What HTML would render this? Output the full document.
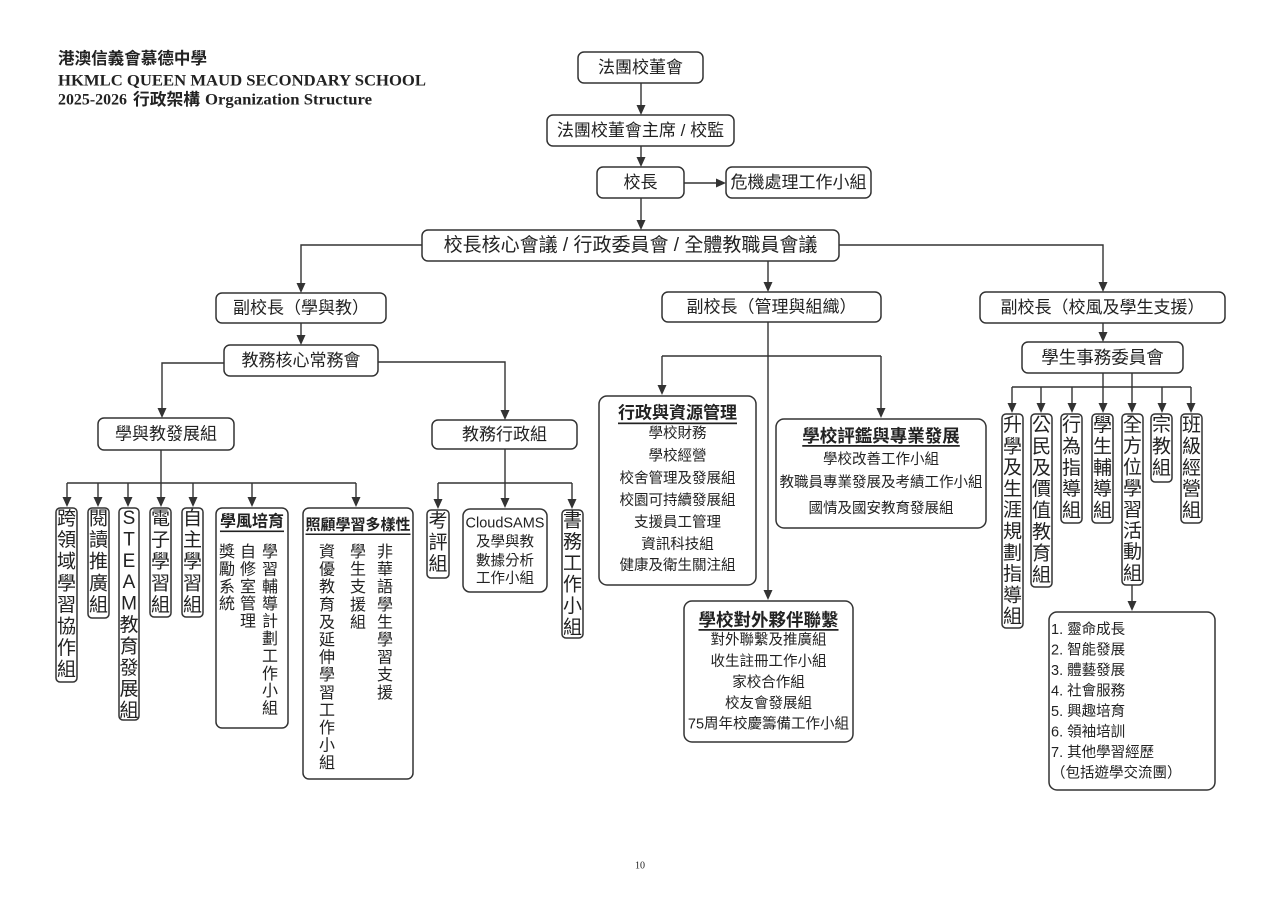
<!DOCTYPE html>
<html><head><meta charset="utf-8">
<style>
html,body{margin:0;padding:0;background:#fff;width:1280px;height:904px;overflow:hidden;}
svg{display:block}
text{font-family:"Liberation Sans","Noto Sans CJK TC",sans-serif;fill:#222;dominant-baseline:central;}
.c{text-anchor:middle}
.b{fill:#fff;stroke:#333;stroke-width:1.5}
.l{fill:none;stroke:#333;stroke-width:1.4}
.ah{fill:#333;stroke:none}
.v{font-size:19px;text-anchor:middle}
.m{font-size:17px;text-anchor:middle}
.s{font-size:14.5px;text-anchor:middle}
.sl{font-size:14.5px}
.u{font-weight:bold;text-decoration:underline;text-anchor:middle}
.w{font-size:16px;text-anchor:middle}
.serif{font-family:"Liberation Serif","Noto Serif CJK SC",serif;font-weight:bold}
</style></head>
<body>
<svg width="1280" height="904" viewBox="0 0 1280 904" xmlns="http://www.w3.org/2000/svg">

<!-- Header -->
<text x="58" y="59" font-size="16.5" font-weight="bold" textLength="149" lengthAdjust="spacingAndGlyphs">港澳信義會慕德中學</text>
<text class="serif" x="58" y="81" font-size="16" textLength="368" lengthAdjust="spacingAndGlyphs">HKMLC QUEEN MAUD SECONDARY SCHOOL</text>
<text class="serif" x="58" y="100" font-size="16" textLength="69" lengthAdjust="spacingAndGlyphs">2025-2026</text>
<text x="133" y="100" font-size="16.5" font-weight="bold" textLength="67" lengthAdjust="spacingAndGlyphs">行政架構</text>
<text class="serif" x="205" y="100" font-size="16" textLength="167" lengthAdjust="spacingAndGlyphs">Organization Structure</text>

<!-- Connector lines -->
<path class="l" d="M641 83V106 M641 146V158 M684 183H716 M641 198V221
M422 245H301V284 M839 245H1103V283 M768 261V283
M301 323V336 M224 363H162V409 M378 362H505V411
M161 450V498 M67 483H356 M67 483V498 M98 483V498 M128 483V498 M193 483V498 M252 483V498 M356 483V498
M505 449V499 M438 483H572 M438 483V500 M572 483V500
M768 322V591 M662 356H881 M662 356V386 M881 356V409
M1103 323V333 M1103 373V404 M1132 373V404 M1012 387H1191 M1012 387V404 M1041 387V404 M1072 387V404 M1162 387V404 M1191 387V404
M1132 585V602"/>

<!-- Arrowheads -->
<path class="ah" d="
M641 115l-4.5 -10h9z M641 167l-4.5 -10h9z M641 230l-4.5 -10h9z
M301 293l-4.5 -10h9z M1103 292l-4.5 -10h9z M768 292l-4.5 -10h9z
M301 345l-4.5 -10h9z M162 418l-4.5 -10h9z M505 420l-4.5 -10h9z
M67 507l-4.5 -10h9z M98 507l-4.5 -10h9z M128 507l-4.5 -10h9z M161 507l-4.5 -10h9z M193 507l-4.5 -10h9z M252 507l-4.5 -10h9z M356 507l-4.5 -10h9z
M438 509l-4.5 -10h9z M505 508l-4.5 -10h9z M572 509l-4.5 -10h9z
M768 600l-4.5 -10h9z M662 395l-4.5 -10h9z M881 418l-4.5 -10h9z
M1103 342l-4.5 -10h9z M1012 413l-4.5 -10h9z M1041 413l-4.5 -10h9z M1072 413l-4.5 -10h9z M1103 413l-4.5 -10h9z M1132 413l-4.5 -10h9z M1162 413l-4.5 -10h9z M1191 413l-4.5 -10h9z
M1132 611l-4.5 -10h9z
M726 183l-10 -4.5v9z"/>

<!-- Top chain boxes -->
<rect class="b" x="578" y="52" width="125" height="31" rx="6"/>
<text class="m" x="640.5" y="67.5">法團校董會</text>
<rect class="b" x="547" y="115" width="187" height="31" rx="6"/>
<text class="m" x="640.5" y="130.5">法團校董會主席 / 校監</text>
<rect class="b" x="597" y="167" width="87" height="31" rx="6"/>
<text class="m" x="640.5" y="182.5">校長</text>
<rect class="b" x="726" y="167" width="145" height="31" rx="6"/>
<text class="m" x="798.5" y="182.5">危機處理工作小組</text>
<rect class="b" x="422" y="230" width="417" height="31" rx="6"/>
<text class="c" x="630.5" y="245.5" font-size="19">校長核心會議 / 行政委員會 / 全體教職員會議</text>

<!-- Vice principals -->
<rect class="b" x="216" y="293" width="170" height="30" rx="6"/>
<text class="m" x="301" y="308">副校長（學與教）</text>
<rect class="b" x="662" y="292" width="219" height="30" rx="6"/>
<text class="m" x="771.5" y="307">副校長（管理與組織）</text>
<rect class="b" x="980" y="292" width="245" height="31" rx="6"/>
<text class="m" x="1102.5" y="307.5">副校長（校風及學生支援）</text>

<!-- Left branch -->
<rect class="b" x="224" y="345" width="154" height="31" rx="6"/>
<text class="m" x="301" y="360.5">教務核心常務會</text>
<rect class="b" x="98" y="418" width="136" height="32" rx="6"/>
<text class="m" x="166" y="434">學與教發展組</text>
<rect class="b" x="432" y="420" width="145" height="29" rx="6"/>
<text class="m" x="504.5" y="434.5">教務行政組</text>

<!-- Left vertical boxes -->
<rect class="b" x="56" y="508" width="21" height="174" rx="4"/>
<text class="v" x="66.5" y="518.5"><tspan x="66.5" dy="0">跨</tspan><tspan x="66.5" dy="21.6">領</tspan><tspan x="66.5" dy="21.6">域</tspan><tspan x="66.5" dy="21.6">學</tspan><tspan x="66.5" dy="21.6">習</tspan><tspan x="66.5" dy="21.6">協</tspan><tspan x="66.5" dy="21.6">作</tspan><tspan x="66.5" dy="21.6">組</tspan></text>

<rect class="b" x="88" y="508" width="21" height="110" rx="4"/>
<text class="v" x="98.5" y="518.5"><tspan x="98.5" dy="0">閱</tspan><tspan x="98.5" dy="21.6">讀</tspan><tspan x="98.5" dy="21.6">推</tspan><tspan x="98.5" dy="21.6">廣</tspan><tspan x="98.5" dy="21.6">組</tspan></text>

<rect class="b" x="119" y="508" width="20" height="212" rx="4"/>
<text class="v" x="129" y="518"><tspan x="129" dy="0">S</tspan><tspan x="129" dy="21.4">T</tspan><tspan x="129" dy="21.4">E</tspan><tspan x="129" dy="21.4">A</tspan><tspan x="129" dy="21.4">M</tspan><tspan x="129" dy="21.4">教</tspan><tspan x="129" dy="21.4">育</tspan><tspan x="129" dy="21.4">發</tspan><tspan x="129" dy="21.4">展</tspan><tspan x="129" dy="21.4">組</tspan></text>

<rect class="b" x="150" y="508" width="21" height="109" rx="4"/>
<text class="v" x="160.5" y="518.5"><tspan x="160.5" dy="0">電</tspan><tspan x="160.5" dy="21.6">子</tspan><tspan x="160.5" dy="21.6">學</tspan><tspan x="160.5" dy="21.6">習</tspan><tspan x="160.5" dy="21.6">組</tspan></text>

<rect class="b" x="182" y="508" width="21" height="109" rx="4"/>
<text class="v" x="192.5" y="518.5"><tspan x="192.5" dy="0">自</tspan><tspan x="192.5" dy="21.6">主</tspan><tspan x="192.5" dy="21.6">學</tspan><tspan x="192.5" dy="21.6">習</tspan><tspan x="192.5" dy="21.6">組</tspan></text>

<!-- 學風培育 -->
<rect class="b" x="216" y="508" width="72" height="220" rx="6"/>
<text class="u" x="252" y="522" font-size="16">學風培育</text>
<text class="w" x="270" y="552"><tspan x="270" dy="0">學</tspan><tspan x="270" dy="17.4">習</tspan><tspan x="270" dy="17.4">輔</tspan><tspan x="270" dy="17.4">導</tspan><tspan x="270" dy="17.4">計</tspan><tspan x="270" dy="17.4">劃</tspan><tspan x="270" dy="17.4">工</tspan><tspan x="270" dy="17.4">作</tspan><tspan x="270" dy="17.4">小</tspan><tspan x="270" dy="17.4">組</tspan></text>
<text class="w" x="248" y="552"><tspan x="248" dy="0">自</tspan><tspan x="248" dy="17.4">修</tspan><tspan x="248" dy="17.4">室</tspan><tspan x="248" dy="17.4">管</tspan><tspan x="248" dy="17.4">理</tspan></text>
<text class="w" x="227" y="552"><tspan x="227" dy="0">獎</tspan><tspan x="227" dy="17.4">勵</tspan><tspan x="227" dy="17.4">系</tspan><tspan x="227" dy="17.4">統</tspan></text>

<!-- 照顧學習多樣性 -->
<rect class="b" x="303" y="508" width="110" height="271" rx="6"/>
<text class="u" x="358" y="525" font-size="15">照顧學習多樣性</text>
<text class="w" x="385" y="552"><tspan x="385" dy="0">非</tspan><tspan x="385" dy="17.6">華</tspan><tspan x="385" dy="17.6">語</tspan><tspan x="385" dy="17.6">學</tspan><tspan x="385" dy="17.6">生</tspan><tspan x="385" dy="17.6">學</tspan><tspan x="385" dy="17.6">習</tspan><tspan x="385" dy="17.6">支</tspan><tspan x="385" dy="17.6">援</tspan></text>
<text class="w" x="358" y="552"><tspan x="358" dy="0">學</tspan><tspan x="358" dy="17.6">生</tspan><tspan x="358" dy="17.6">支</tspan><tspan x="358" dy="17.6">援</tspan><tspan x="358" dy="17.6">組</tspan></text>
<text class="w" x="327" y="552"><tspan x="327" dy="0">資</tspan><tspan x="327" dy="17.6">優</tspan><tspan x="327" dy="17.6">教</tspan><tspan x="327" dy="17.6">育</tspan><tspan x="327" dy="17.6">及</tspan><tspan x="327" dy="17.6">延</tspan><tspan x="327" dy="17.6">伸</tspan><tspan x="327" dy="17.6">學</tspan><tspan x="327" dy="17.6">習</tspan><tspan x="327" dy="17.6">工</tspan><tspan x="327" dy="17.6">作</tspan><tspan x="327" dy="17.6">小</tspan><tspan x="327" dy="17.6">組</tspan></text>

<!-- 教務行政組 children -->
<rect class="b" x="427" y="510" width="22" height="68" rx="4"/>
<text class="v" x="438" y="521"><tspan x="438" dy="0">考</tspan><tspan x="438" dy="21.5">評</tspan><tspan x="438" dy="21.5">組</tspan></text>

<rect class="b" x="463" y="509" width="84" height="83" rx="7"/>
<text class="s" x="505" y="523.5">CloudSAMS</text>
<text class="s" x="505" y="542.5">及學與教</text>
<text class="s" x="505" y="561.5">數據分析</text>
<text class="s" x="505" y="579">工作小組</text>

<rect class="b" x="562" y="510" width="21" height="128" rx="4"/>
<text class="v" x="572.5" y="520.5"><tspan x="572.5" dy="0">書</tspan><tspan x="572.5" dy="21.4">務</tspan><tspan x="572.5" dy="21.4">工</tspan><tspan x="572.5" dy="21.4">作</tspan><tspan x="572.5" dy="21.4">小</tspan><tspan x="572.5" dy="21.4">組</tspan></text>

<!-- Middle branch -->
<rect class="b" x="599" y="396" width="157" height="189" rx="8"/>
<text class="u" x="677.5" y="413" font-size="17">行政與資源管理</text>
<text class="s" x="677.5" y="434">學校財務</text>
<text class="s" x="677.5" y="456.5">學校經營</text>
<text class="s" x="677.5" y="479">校舍管理及發展組</text>
<text class="s" x="677.5" y="501">校園可持續發展組</text>
<text class="s" x="677.5" y="523">支援員工管理</text>
<text class="s" x="677.5" y="545">資訊科技組</text>
<text class="s" x="677.5" y="566">健康及衛生關注組</text>

<rect class="b" x="776" y="419" width="210" height="109" rx="8"/>
<text class="u" x="881" y="436" font-size="17.5">學校評鑑與專業發展</text>
<text class="s" x="881" y="460">學校改善工作小組</text>
<text class="s" x="881" y="483">教職員專業發展及考績工作小組</text>
<text class="s" x="881" y="509">國情及國安教育發展組</text>

<rect class="b" x="684" y="601" width="169" height="141" rx="8"/>
<text class="u" x="768.5" y="620" font-size="17.5">學校對外夥伴聯繫</text>
<text class="s" x="768.5" y="640.5">對外聯繫及推廣組</text>
<text class="s" x="768.5" y="662">收生註冊工作小組</text>
<text class="s" x="768.5" y="683">家校合作組</text>
<text class="s" x="768.5" y="704">校友會發展組</text>
<text class="s" x="768.5" y="724.5">75周年校慶籌備工作小組</text>

<!-- Right branch -->
<rect class="b" x="1022" y="342" width="161" height="31" rx="6"/>
<text class="c" x="1102.5" y="357.5" font-size="17.5">學生事務委員會</text>

<rect class="b" x="1002" y="414" width="21" height="214" rx="4"/>
<text class="v" x="1012.5" y="425"><tspan x="1012.5" dy="0">升</tspan><tspan x="1012.5" dy="21.3">學</tspan><tspan x="1012.5" dy="21.3">及</tspan><tspan x="1012.5" dy="21.3">生</tspan><tspan x="1012.5" dy="21.3">涯</tspan><tspan x="1012.5" dy="21.3">規</tspan><tspan x="1012.5" dy="21.3">劃</tspan><tspan x="1012.5" dy="21.3">指</tspan><tspan x="1012.5" dy="21.3">導</tspan><tspan x="1012.5" dy="21.3">組</tspan></text>

<rect class="b" x="1031" y="414" width="21" height="173" rx="4"/>
<text class="v" x="1041.5" y="425"><tspan x="1041.5" dy="0">公</tspan><tspan x="1041.5" dy="21.4">民</tspan><tspan x="1041.5" dy="21.4">及</tspan><tspan x="1041.5" dy="21.4">價</tspan><tspan x="1041.5" dy="21.4">值</tspan><tspan x="1041.5" dy="21.4">教</tspan><tspan x="1041.5" dy="21.4">育</tspan><tspan x="1041.5" dy="21.4">組</tspan></text>

<rect class="b" x="1061" y="414" width="21" height="109" rx="4"/>
<text class="v" x="1071.5" y="425"><tspan x="1071.5" dy="0">行</tspan><tspan x="1071.5" dy="21.4">為</tspan><tspan x="1071.5" dy="21.4">指</tspan><tspan x="1071.5" dy="21.4">導</tspan><tspan x="1071.5" dy="21.4">組</tspan></text>

<rect class="b" x="1092" y="414" width="21" height="109" rx="4"/>
<text class="v" x="1102.5" y="425"><tspan x="1102.5" dy="0">學</tspan><tspan x="1102.5" dy="21.4">生</tspan><tspan x="1102.5" dy="21.4">輔</tspan><tspan x="1102.5" dy="21.4">導</tspan><tspan x="1102.5" dy="21.4">組</tspan></text>

<rect class="b" x="1122" y="414" width="21" height="171" rx="4"/>
<text class="v" x="1132.5" y="425"><tspan x="1132.5" dy="0">全</tspan><tspan x="1132.5" dy="21.2">方</tspan><tspan x="1132.5" dy="21.2">位</tspan><tspan x="1132.5" dy="21.2">學</tspan><tspan x="1132.5" dy="21.2">習</tspan><tspan x="1132.5" dy="21.2">活</tspan><tspan x="1132.5" dy="21.2">動</tspan><tspan x="1132.5" dy="21.2">組</tspan></text>

<rect class="b" x="1151" y="414" width="21" height="68" rx="4"/>
<text class="v" x="1161.5" y="425"><tspan x="1161.5" dy="0">宗</tspan><tspan x="1161.5" dy="21.6">教</tspan><tspan x="1161.5" dy="21.6">組</tspan></text>

<rect class="b" x="1181" y="414" width="21" height="109" rx="4"/>
<text class="v" x="1191.5" y="425"><tspan x="1191.5" dy="0">班</tspan><tspan x="1191.5" dy="21.4">級</tspan><tspan x="1191.5" dy="21.4">經</tspan><tspan x="1191.5" dy="21.4">營</tspan><tspan x="1191.5" dy="21.4">組</tspan></text>

<rect class="b" x="1049" y="612" width="166" height="178" rx="8"/>
<text class="sl" x="1051" y="630">1. 靈命成長</text>
<text class="sl" x="1051" y="650.5">2. 智能發展</text>
<text class="sl" x="1051" y="671">3. 體藝發展</text>
<text class="sl" x="1051" y="691.5">4. 社會服務</text>
<text class="sl" x="1051" y="712">5. 興趣培育</text>
<text class="sl" x="1051" y="732.5">6. 領袖培訓</text>
<text class="sl" x="1051" y="753">7. 其他學習經歷</text>
<text class="sl" x="1051" y="773.5">（包括遊學交流團）</text>

<!-- Footer -->
<text x="640" y="866" font-size="10" class="c" style="font-family:'Liberation Serif',serif">10</text>
</svg>
</body></html>
